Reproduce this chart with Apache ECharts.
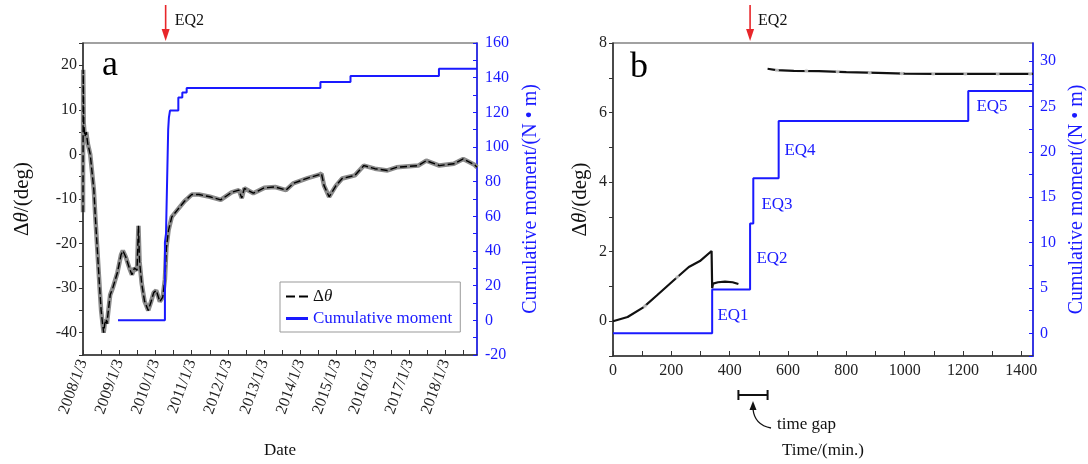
<!DOCTYPE html>
<html><head><meta charset="utf-8">
<script src="https://cdn.jsdelivr.net/npm/echarts@6/dist/echarts.min.js"></script>
<style>html,body{margin:0;padding:0;background:#fff}#c{width:1088px;height:464px}</style>
</head><body><div id="c"></div>
<script>
// ---------- Panel a data (x = years since 2008/1/3) ----------
const aDateLabels = ['2008/1/3','2009/1/3','2010/1/3','2011/1/3','2012/1/3','2013/1/3','2014/1/3','2015/1/3','2016/1/3','2017/1/3','2018/1/3'];
const aThetaX = [0,0.005,0.02,0.05,0.09,0.13,0.2,0.25,0.3,0.34,0.4,0.46,0.5,0.54,0.57,0.6,0.64,0.66,0.7,0.75,0.82,0.95,1.05,1.1,1.18,1.28,1.35,1.42,1.49,1.53,1.56,1.62,1.7,1.8,1.88,1.95,2.02,2.12,2.2,2.26,2.3,2.36,2.45,2.6,2.8,3.0,3.2,3.5,3.8,4.1,4.3,4.38,4.45,4.7,5.0,5.3,5.6,5.8,6.2,6.5,6.58,6.65,6.79,6.98,7.15,7.5,7.75,8.05,8.4,8.65,9.25,9.47,9.83,10.23,10.49,10.8,10.87];
const aThetaY = [-13,19,7,4,5,2.5,0,-4,-8,-14,-22,-30,-35,-38,-40,-38,-37,-38,-35,-31.5,-30,-26.5,-22.5,-21.6,-23,-25.5,-27,-25.5,-26,-16,-24,-29,-33,-35,-33,-31,-30.5,-33,-32,-28,-21,-17,-14,-12.5,-10.5,-9,-9,-9.5,-10.2,-8.5,-8,-9.8,-7.6,-8.7,-7.5,-7.3,-8,-6.5,-5.3,-4.6,-4.3,-7,-9.5,-7,-5.4,-4.7,-2.5,-3.2,-3.6,-2.9,-2.5,-1.4,-2.5,-2.1,-1,-2.3,-2.9];
const aMomentX = [0.965,2.26,2.29,2.335,2.35,2.37,2.40,2.63,2.74,2.86,6.55,7.38,9.82,10.87];
const aMomentY = [0,45,50,95,110,117,121,128.6,131.5,134,137.5,141,145.2,145.2];
const aEQ2 = 2.28;

// ---------- Panel b data (x = minutes) ----------
const bTheta1T = [0,50,104,150,218,260,298,338,340,343,360,384,410,430];
const bTheta1V = [0,0.12,0.4,0.74,1.25,1.56,1.73,2.02,0.95,1.08,1.12,1.14,1.12,1.07];
const bTheta2T = [530,560,620,706,800,909,1000,1100,1200,1300,1440];
const bTheta2V = [7.26,7.22,7.2,7.19,7.16,7.14,7.12,7.11,7.11,7.11,7.11];
const bDotT = [110,220,562,663,770,880,990,1098,1208,1319,1430];
const bDotV = [0.43,1.27,7.22,7.2,7.17,7.14,7.12,7.11,7.11,7.11,7.11];
const bMomentT = [0,340,470,481,568,1218,1440];
const bMomentV = [0,4.83,12.1,17.1,23.4,26.7,26.7];
const bEQLabels = ['EQ1','EQ2','EQ3','EQ4','EQ5'];
const bEQ2 = 470;
const bGap = [430,530];

const FONT = "'Liberation Serif','Times New Roman',serif";
const BLUE = '#1a1aff';
const zip = (a,b) => a.map((v,i)=>[v,b[i]]);

const chart = echarts.init(document.getElementById('c'));
const tickFont = {fontFamily:FONT,fontSize:16,color:'#222'};
const blueFont = {fontFamily:FONT,fontSize:16,color:BLUE};

const option = {
  animation:false,
  backgroundColor:'#fff',
  grid:[
    {left:83,right:611,top:43,bottom:103,show:true,borderColor:'#444',borderWidth:1.2,containLabel:false},
    {left:613,right:55,top:43,bottom:104,show:true,borderColor:'#444',borderWidth:1.2,containLabel:false}
  ],
  xAxis:[
    {type:'value',gridIndex:0,min:0,max:10.87,interval:0.5,
     axisLine:{onZero:false,lineStyle:{color:'#333',width:1.5}},
     axisTick:{inside:true,length:5,lineStyle:{color:'#333'}},
     splitLine:{show:false},
     axisLabel:{...tickFont,fontSize:16,rotate:70,margin:5,showMaxLabel:false,
       formatter:v=>Number.isInteger(v)&&aDateLabels[v]?aDateLabels[v]:''},
     name:'Date',nameLocation:'middle',nameGap:87,
     nameTextStyle:{fontFamily:FONT,fontSize:17,color:'#111'}},
    {type:'value',gridIndex:1,min:0,max:1440,interval:100,
     axisLine:{onZero:false,lineStyle:{color:'#333',width:1.5}},
     axisTick:{inside:true,length:5,lineStyle:{color:'#333'}},
     splitLine:{show:false},
     axisLabel:{...tickFont,margin:7,showMaxLabel:false,formatter:v=>v%200===0?String(v):''},
     name:'Time/(min.)',nameLocation:'middle',nameGap:86,
     nameTextStyle:{fontFamily:FONT,fontSize:17,color:'#111'}}
  ],
  yAxis:[
    {type:'value',gridIndex:0,min:-45,max:25,interval:5,position:'left',
     axisLine:{show:true,onZero:false,lineStyle:{color:'#333',width:1.5}},
     axisTick:{show:true,inside:false,length:4,lineStyle:{color:'#333'}},
     splitLine:{show:false},
     axisLabel:{...tickFont,margin:6,formatter:v=>(v%10===0&&v<=20)?String(v):''},
     name:'Δ{i|θ}/(deg)',nameLocation:'middle',nameGap:50,nameRotate:90,
     nameTextStyle:{fontFamily:FONT,fontSize:21,color:'#111',rich:{i:{fontFamily:FONT,fontSize:21,fontStyle:'italic',color:'#111'}}}},
    {type:'value',gridIndex:0,min:-20,max:160,interval:10,position:'right',
     axisLine:{show:true,onZero:false,lineStyle:{color:BLUE,width:1.5}},
     axisTick:{show:true,inside:true,length:4,lineStyle:{color:BLUE}},
     splitLine:{show:false},
     axisLabel:{...blueFont,margin:8,formatter:v=>v%20===0?String(v):''},
     name:'Cumulative moment/(N • m)',nameLocation:'middle',nameGap:44,nameRotate:90,
     nameTextStyle:{fontFamily:FONT,fontSize:20,color:BLUE}},
    {type:'value',gridIndex:1,min:-1,max:8,interval:1,position:'left',
     axisLine:{show:true,onZero:false,lineStyle:{color:'#333',width:1.5}},
     axisTick:{show:true,inside:false,length:4,lineStyle:{color:'#333'}},
     splitLine:{show:false},
     axisLabel:{...tickFont,margin:6,formatter:v=>(v>=0&&v%2===0)?String(v):''},
     name:'Δ{i|θ}/(deg)',nameLocation:'middle',nameGap:22,nameRotate:90,
     nameTextStyle:{fontFamily:FONT,fontSize:21,color:'#111',rich:{i:{fontFamily:FONT,fontSize:21,fontStyle:'italic',color:'#111'}}}},
    {type:'value',gridIndex:1,min:-2.5,max:32,interval:2.5,position:'right',
     axisLine:{show:true,onZero:false,lineStyle:{color:BLUE,width:1.5}},
     axisTick:{show:true,inside:true,length:4,lineStyle:{color:BLUE}},
     splitLine:{show:false},
     axisLabel:{...blueFont,margin:7,showMaxLabel:false,formatter:v=>(v>=0&&v%5===0)?String(v):''},
     name:'Cumulative moment/(N • m)',nameLocation:'middle',nameGap:34,nameRotate:90,
     nameTextStyle:{fontFamily:FONT,fontSize:20,color:BLUE}}
  ],
  legend:{
    left:280,top:282,orient:'vertical',itemGap:5,itemWidth:22,itemHeight:3,
    padding:[6,8,5,6],borderColor:'#999',borderWidth:1,borderRadius:0,backgroundColor:'#fff',
    textStyle:{fontFamily:FONT,fontSize:17,color:'#111',rich:{i:{fontFamily:FONT,fontSize:17,fontStyle:'italic',color:'#111'}}},
    formatter:n=>n==='Δθ'?'Δ{i|θ}':n,
    data:[
      {name:'Δθ',icon:'path://M0 0h9v2H0zM13 0h9v2h-9z',itemStyle:{color:'#000'}},
      {name:'Cumulative moment',icon:'rect',itemStyle:{color:BLUE},textStyle:{color:BLUE}}
    ]
  },
  series:[
    {name:'halo',type:'line',xAxisIndex:0,yAxisIndex:0,data:zip(aThetaX,aThetaY),
     symbol:'none',lineStyle:{color:'#8a8a8a',width:4.5},z:2,silent:true},
    {name:'Δθ',type:'line',xAxisIndex:0,yAxisIndex:0,data:zip(aThetaX,aThetaY),
     symbol:'none',itemStyle:{color:'#000'},lineStyle:{color:'#000',width:1.4,type:[7,3]},z:3},
    {name:'Cumulative moment',type:'line',xAxisIndex:0,yAxisIndex:1,step:'end',
     data:zip(aMomentX,aMomentY),symbol:'none',itemStyle:{color:BLUE},lineStyle:{color:BLUE,width:2},z:4},
    {name:'b-theta',type:'line',xAxisIndex:1,yAxisIndex:2,
     data:zip(bTheta1T,bTheta1V).concat([[480,'-']],zip(bTheta2T,bTheta2V)),
     symbol:'none',connectNulls:false,lineStyle:{color:'#111',width:2.2},z:3},
    {name:'b-dots',type:'scatter',xAxisIndex:1,yAxisIndex:2,data:zip(bDotT,bDotV),
     symbol:'circle',symbolSize:4,itemStyle:{color:'#d8d8d8'},z:4,silent:true},
    {name:'b-moment',type:'line',xAxisIndex:1,yAxisIndex:3,step:'end',
     data:zip(bMomentT,bMomentV),symbol:'none',lineStyle:{color:BLUE,width:2},z:4}
  ]
};
chart.setOption(option);

// ---------- annotations ----------
const px = (xi, v) => chart.convertToPixel({xAxisIndex:xi}, v);
const ax = px(0,aEQ2), bx = px(1,bEQ2);
const g1 = px(1,bGap[0]), g2 = px(1,bGap[1]);
function arrow(x){
  return [
    {type:'line',shape:{x1:x,y1:5,x2:x,y2:32},style:{stroke:'#e8262a',lineWidth:1.6}},
    {type:'polygon',shape:{points:[[x-4,29],[x+4,29],[x,41]]},style:{fill:'#e8262a'}}
  ];
}
const txt = (x,y,t,opt={}) => ({type:'text',x,y,style:Object.assign({text:t,fontFamily:FONT,fontSize:16,fill:'#111',align:'left',verticalAlign:'middle'},opt)});
const eqPos = [[733,316],[772,259],[777,205],[800,151],[992,107]];
const graphics = [
  ...arrow(ax), txt(ax+9,21,'EQ2',{fontSize:16}),
  ...arrow(bx), txt(bx+8,21,'EQ2',{fontSize:16}),
  txt(102,66,'a',{fontSize:36,fill:'#000'}),
  txt(630,68,'b',{fontSize:36,fill:'#000'}),
  ...bEQLabels.map((t,i)=>txt(eqPos[i][0],eqPos[i][1],t,{fill:BLUE,align:'center',fontSize:17})),
  {type:'line',shape:{x1:g1,y1:395,x2:g2,y2:395},style:{stroke:'#111',lineWidth:2}},
  {type:'line',shape:{x1:g1,y1:390,x2:g1,y2:400},style:{stroke:'#111',lineWidth:2}},
  {type:'line',shape:{x1:g2,y1:390,x2:g2,y2:400},style:{stroke:'#111',lineWidth:2}},
  {type:'bezierCurve',shape:{x1:771,y1:428,cpx1:760,cpy1:426,cpx2:754,cpy2:419,x2:753,y2:409},style:{stroke:'#111',lineWidth:1.3,fill:null}},
  {type:'polygon',shape:{points:[[749.5,410],[756.5,410],[753,401]]},style:{fill:'#111'}},
  txt(777,425,'time gap',{fontSize:17})
];
chart.setOption({graphic:graphics});
</script></body></html>
